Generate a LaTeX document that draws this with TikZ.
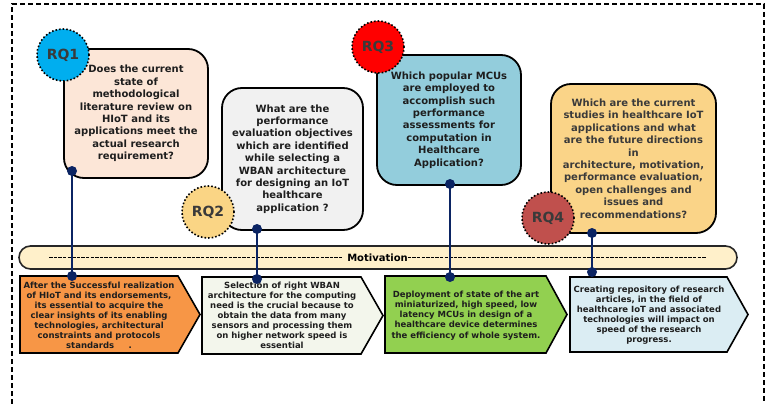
\documentclass[tikz,border=0pt]{standalone}
\usepackage{fontspec}
\setmainfont{DejaVu Sans}[BoldFont={DejaVu Sans Bold}]
\usetikzlibrary{calc}

\definecolor{navy}{HTML}{0B2463}
\definecolor{txtgray}{HTML}{1E1E1E}
\definecolor{rqgray}{HTML}{3A3A3A}
\definecolor{peach}{HTML}{FCE6D7}
\definecolor{lightgray}{HTML}{F1F1F1}
\definecolor{aqua}{HTML}{93CDDC}
\definecolor{sand}{HTML}{FAD488}
\definecolor{cyanrq}{HTML}{00AEEF}
\definecolor{apricot}{HTML}{FAD585}
\definecolor{redrq}{HTML}{FF0000}
\definecolor{brickrq}{HTML}{C0504D}
\definecolor{cream}{HTML}{FFF0CA}
\definecolor{orangebox}{HTML}{F79646}
\definecolor{paleboxgreen}{HTML}{F3F6EC}
\definecolor{greenbox}{HTML}{92D050}
\definecolor{paleblue}{HTML}{DBEDF3}

% a run of bold hyphens filling the given width
\newcommand\hyphenrun[1]{\makebox[#1]{\leaders\hbox{\rule[2.8pt]{3.4pt}{1.3pt}\kern1.2pt}\hfill}}

\tikzset{
  qbox/.style={draw=black, line width=1.8pt, rounded corners=20pt,
    align=center, font=\bfseries\fontsize{10}{12.4}\selectfont,
    text=txtgray, inner sep=0pt},
  rqbadge/.style={circle, draw=black, dotted, line width=1.6pt,
    minimum size=52pt, inner sep=0pt, text=rqgray,
    font=\bfseries\fontsize{14}{16}\selectfont},
  outcome/.style={draw=black, line width=1.6pt, line join=miter},
  outtext/.style={align=center, text=txtgray, inner sep=0pt,
    font=\bfseries\fontsize{8.5}{10.1}\selectfont},
  conn/.style={draw=navy, line width=2.6pt},
  knob/.style={circle, fill=navy, minimum size=10pt, inner sep=0pt},
}

\begin{document}
\begin{tikzpicture}[x=1pt, y=-1pt]
\useasboundingbox (0,0) rectangle (768,404);

% outer dashed frame
\draw[line width=1.3pt, dash pattern=on 5pt off 3pt]
  (12,420) -- (12,4) -- (764,4) -- (764,420);

% motivation band
\node[draw=black!85, line width=1.6pt, fill=cream, rounded corners=11.5pt,
  minimum width=718pt, minimum height=23pt, inner sep=0pt] (band) at (378,257.5) {};
\node[font=\bfseries\fontsize{10}{11}\selectfont, text=black, inner sep=0pt]
  (bandtext) at (378.5,257.5)
  {\hyphenrun{298pt}Motivation\hyphenrun{300pt}};

% research question boxes
\node[qbox, fill=peach, minimum width=144pt, minimum height=129pt] (q1) at (136,113.5)
  {Does the current\\state of\\methodological\\literature review on\\HIoT and its\\applications meet the\\actual research\\requirement?};
\node[qbox, fill=lightgray, minimum width=141pt, minimum height=142pt] (q2) at (292.5,159)
  {What are the\\performance\\evaluation objectives\\which are identified\\while selecting a\\WBAN architecture\\for designing an IoT\\healthcare\\application ?};
\node[qbox, fill=aqua, minimum width=144pt, minimum height=130pt] (q3) at (449,120)
  {Which popular MCUs\\are employed to\\accomplish such\\performance\\assessments for\\computation in\\Healthcare\\Application?};
\node[qbox, fill=sand, minimum width=165pt, minimum height=149pt, text=rqgray] (q4) at (633.5,158.5)
  {Which are the current\\studies in healthcare IoT\\applications and what\\are the future directions\\in\\architecture, motivation,\\performance evaluation,\\open challenges and\\issues and\\recommendations?};

% RQ badges
\node[rqbadge, fill=cyanrq] (rq1) at (63,55) {RQ1};
\node[rqbadge, fill=apricot] (rq2) at (208,212) {RQ2};
\node[rqbadge, fill=redrq] (rq3) at (378,47) {RQ3};
\node[rqbadge, fill=brickrq] (rq4) at (548,218) {RQ4};

% outcome arrows
\draw[outcome, fill=orangebox] (20,276) -- (178,276) -- (200,314.5) -- (178,353) -- (20,353) -- cycle;
\draw[outcome, fill=paleboxgreen] (202,277) -- (361,277) -- (383,315.5) -- (361,354) -- (202,354) -- cycle;
\draw[outcome, fill=greenbox] (385,276) -- (546,276) -- (567,314.5) -- (546,353) -- (385,353) -- cycle;
\draw[outcome, fill=paleblue] (570,277) -- (727,277) -- (748,314.5) -- (727,352) -- (570,352) -- cycle;

\node[outtext] (o1) at (99,315.5)
  {After the Successful realization\\of HIoT and its endorsements,\\its essential to acquire the\\clear insights of its enabling\\technologies, architectural\\constraints and protocols\\standards\quad\ \ .};
\node[outtext] (o2) at (282,315.5)
  {Selection of right WBAN\\architecture for the computing\\need is the crucial because to\\obtain the data from many\\sensors and processing them\\on higher network speed is\\essential};
\node[outtext] (o3) at (466,315.5)
  {Deployment of state of the art\\miniaturized, high speed, low\\latency MCUs in design of a\\healthcare device determines\\the efficiency of whole system.};
\node[outtext] (o4) at (649,315)
  {Creating repository of research\\articles, in the field of\\healthcare IoT and associated\\technologies will impact on\\speed of the research\\progress.};

% connectors between questions and outcomes
\coordinate (c1a) at (72,171);  \coordinate (c1b) at (72,276);
\coordinate (c2a) at (257,229); \coordinate (c2b) at (257,279);
\coordinate (c3a) at (450,184); \coordinate (c3b) at (450,277);
\coordinate (c4a) at (592,233); \coordinate (c4b) at (592,272);
\foreach \k in {1,2,3,4} {
  \draw[conn] (c\k a) -- (c\k b);
  \node[knob] (k\k a) at (c\k a) {};
  \node[knob] (k\k b) at (c\k b) {};
}
\end{tikzpicture}
\end{document}
